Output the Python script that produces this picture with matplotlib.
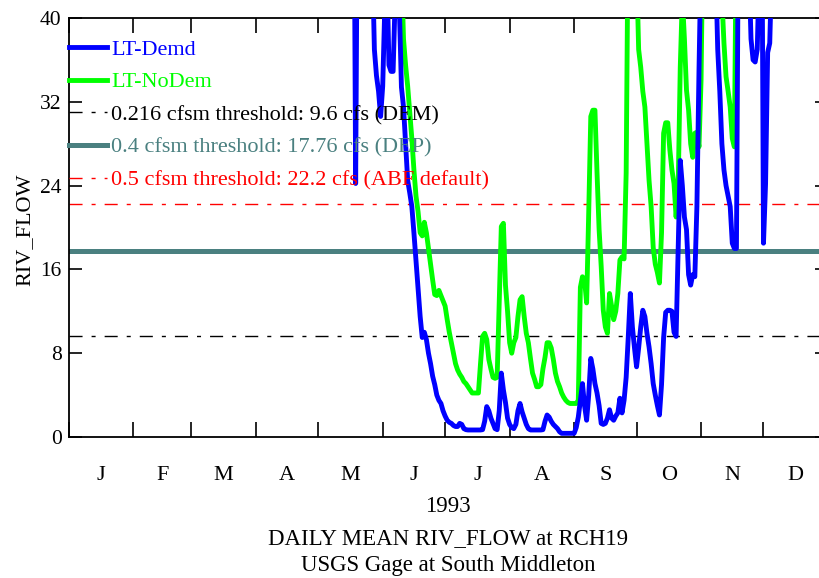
import numpy as np
import matplotlib
matplotlib.use("Agg")
import matplotlib.pyplot as plt

plt.rcParams['font.family'] = ['Liberation Serif', 'DejaVu Serif']

# daily mean flow (cfs), day index 0 = Jan 1 1993; values above 40 run off the top
demd_start = 137
demd_flow = [62, 24.2, 58, 66, 71, 64, 57, 52, 49, 46,
             37, 34.5, 33, 30.6, 33.5, 41, 45, 35.5, 34.9, 34.9,
             42, 44, 41, 33.4, 31.5, 28, 24.5, 23.3, 22, 19.5,
             16.8, 14, 11.5, 9.5, 10, 9.3, 8, 7, 5.8, 5,
             4, 3.5, 3.2, 2.5, 2, 1.6, 1.4, 1.3, 1.1, 1.0,
             1.0, 1.3, 1.2, 0.8, 0.7, 0.67, 0.67, 0.67, 0.67, 0.67,
             0.67, 0.67, 0.7, 1.5, 2.9, 2.5, 1.8, 1.3, 0.8, 0.7,
             2.5, 6.1, 4.5, 3.3, 1.8, 1.2, 0.9, 0.8, 1.2, 2.5,
             3.2, 2.4, 1.8, 1.2, 0.8, 0.67, 0.67, 0.67, 0.67, 0.67,
             0.67, 0.7, 1.5, 2.1, 1.9, 1.5, 1.2, 1.0, 0.8, 0.5,
             0.35, 0.35, 0.35, 0.35, 0.35, 0.35, 0.35, 0.9, 1.9, 3.5,
             5.1, 3.0, 1.6, 4.0, 7.5, 6.5, 5.1, 4.2, 3.0, 1.3,
             1.2, 1.3, 1.8, 2.6, 1.8, 1.6, 2.0, 2.3, 3.7, 2.3,
             3.5, 5.7, 9.5, 13.7, 10.5, 8.5, 6.7, 8.5, 10.5, 12.1,
             11.5, 9.9, 8.6, 7, 5.1, 4, 3.0, 2.1, 5, 9.5,
             11.9, 12.1, 12.1, 12, 10, 9.6, 18, 26.4, 24, 21,
             19.8, 15.5, 14.5, 15.5, 15.3, 22, 35, 46, 55, 63,
             70, 66, 58, 50, 45, 37, 33, 28, 25.5, 24,
             23, 22, 18.5, 18, 18, 52, 64, 60, 55, 50,
             45, 38, 36, 35.8, 37, 45, 60, 18.5, 24.2, 36.7,
             37.6, 45, 55]

nodem_start = 159
nodem_flow = [55, 45, 38, 35.5, 33.5, 31, 28.5, 25.5, 23, 21.5,
              19.5, 19.2, 20.5, 19.5, 18, 16.5, 15, 13.6, 13.5, 14,
              13.5, 13, 12.5, 11.2, 10, 9, 8, 7, 6.4, 6,
              5.7, 5.3, 5.1, 4.8, 4.5, 4.2, 4.2, 4.2, 4.2, 7,
              9.6, 9.9, 9.3, 7.4, 6.5, 5.7, 5.6, 5.7, 13, 20.1,
              20.4, 14.5, 12, 9, 8, 9, 9.5, 11.5, 13.1, 13.4,
              11.5, 9.9, 9, 7.5, 6.1, 5.5, 4.8, 4.8, 5.0, 6.5,
              7.6, 9.0, 9.0, 8.5, 7.4, 6.1, 5.3, 4.8, 4.2, 3.8,
              3.5, 3.3, 3.2, 3.2, 3.2, 3.2, 3.5, 14.3, 15.3, 15,
              12.8, 21.4, 30.6, 31.2, 31.2, 25.2, 19.8, 16.3, 12.1, 10.5,
              9.9, 13.7, 12.5, 11.2, 12, 13.7, 16.9, 17.2, 17, 25.2,
              50, 62, 58, 52, 45, 37, 35.3, 33, 31.5, 28,
              24.5, 22, 18.1, 16.5, 15.7, 14.7, 19.5, 29, 30, 30,
              27.4, 25.5, 24.2, 21, 23.9, 35.3, 42, 38, 33.1, 31.2,
              28, 26.7, 29, 29.1, 27.7, 34.1, 50, 58, 66, 70,
              64, 60, 55, 50, 46, 42, 37.6, 34.4, 33, 31.5,
              28.5, 27.7, 50, 60]

thresholds = [9.6, 17.76, 22.2]
threshold_labels = ['0.216 cfsm threshold: 9.6 cfs (DEM)',
                    '0.4 cfsm threshold: 17.76 cfs (DEP)',
                    '0.5 cfsm threshold: 22.2 cfs (ABF default)']

month_starts = [0, 31, 59, 90, 120, 151, 181, 212, 243, 273, 304, 334, 365]
month_labels = ['J', 'F', 'M', 'A', 'M', 'J', 'J', 'A', 'S', 'O', 'N', 'D']

fig = plt.figure(figsize=(8.19, 5.78), dpi=100)
W, H = 819, 578
# axes runs a little past the right edge of the picture, like the original
ax = fig.add_axes([68.5 / W, (H - 437) / H, (828 - 68.5) / W, 419 / H])

demd_days = demd_start + np.arange(len(demd_flow))
nodem_days = nodem_start + np.arange(len(nodem_flow))

dashdot = (0, (9.4, 6.5, 2.9, 6.5))
ax.plot(nodem_days, nodem_flow, color='#00ff00', lw=3.5, label='LT-NoDem', zorder=3)
ax.plot(demd_days, demd_flow, color='#0000ff', lw=3.5, label='LT-Demd', zorder=4)
ax.axhline(thresholds[0], color='black', lw=1, linestyle=dashdot, label=threshold_labels[0], zorder=2)
ax.axhline(thresholds[1], color='#4a8080', lw=3.6, label=threshold_labels[1], zorder=2)
ax.axhline(thresholds[2], color='red', lw=1, linestyle=dashdot, label=threshold_labels[2], zorder=2)

ax.set_xlim(0, 365)
ax.set_ylim(0, 40)

ax.set_xticks(month_starts)
ax.set_xticklabels([])
mids = [(a + b) / 2 for a, b in zip(month_starts[:-1], month_starts[1:])]
ax.set_xticks(mids, minor=True)
ax.set_xticklabels(month_labels, minor=True, fontsize=16)
ax.tick_params(axis='x', which='major', direction='in', length=11, width=1.2,
               top=True, bottom=True)
ax.tick_params(axis='x', which='minor', length=0, pad=21)

ax.set_yticks(range(0, 41, 8))
ax.tick_params(axis='y', direction='in', length=9.5, width=1.2, left=True, right=True,
               labelsize=15.5, pad=5)

for s in ax.spines.values():
    s.set_linewidth(1.3)

# legend order as in the original
h, l = ax.get_legend_handles_labels()
order = [1, 0, 2, 3, 4]
ax.legend([h[i] for i in order], [l[i] for i in order], loc='upper left',
          bbox_to_anchor=(0, 0.95), frameon=False, fontsize=16,
          handlelength=1.75, handletextpad=0.18, borderpad=0, borderaxespad=0,
          labelspacing=0.55, labelcolor='linecolor')

fig.text(25 / W, 1 - 230 / H, 'RIV_FLOW', rotation=90, ha='center', va='center', fontsize=16)
cx = (68.5 + 828) / 2 / W
fig.text(cx, 1 - 507 / H, '1993', ha='center', va='center', fontsize=16.5)
fig.text(cx, 1 - 539 / H, 'DAILY MEAN RIV_FLOW at RCH19', ha='center', va='center', fontsize=16.5)
fig.text(cx, 1 - 566 / H, 'USGS Gage at South Middleton', ha='center', va='center', fontsize=16.5)

fig.savefig('out.png', dpi=100)
